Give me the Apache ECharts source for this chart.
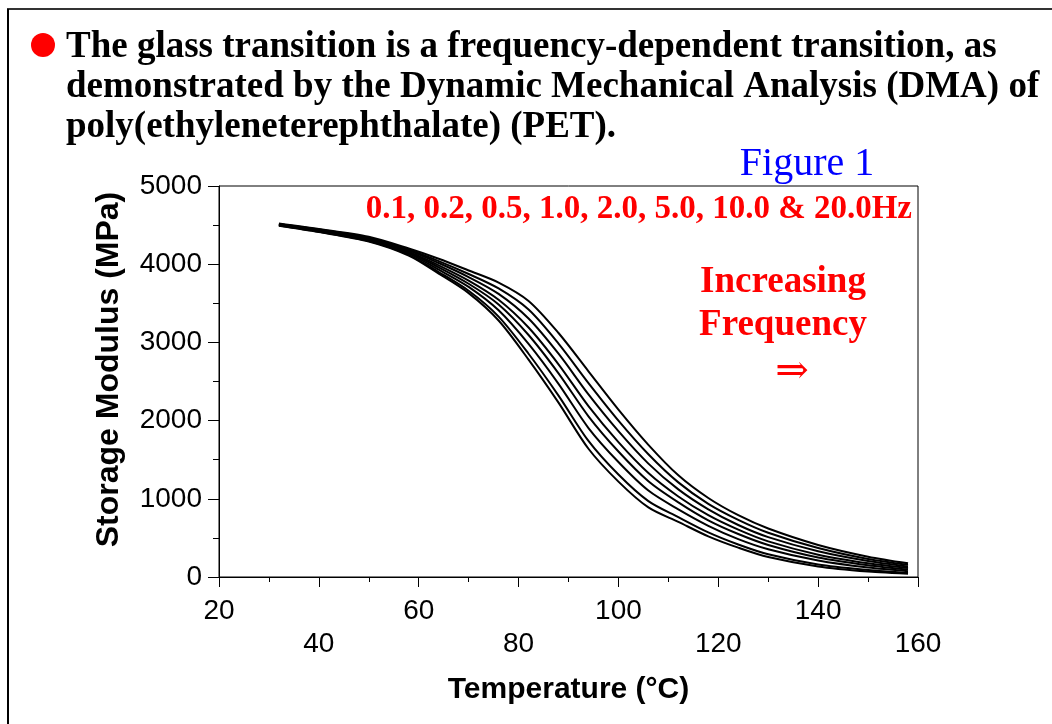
<!DOCTYPE html>
<html>
<head>
<meta charset="utf-8">
<title>DMA of PET</title>
<script src="https://cdn.jsdelivr.net/npm/echarts@6/dist/echarts.min.js"></script>
<style>
  html, body { margin: 0; padding: 0; background: #fff; }
  #main { width: 1052px; height: 724px; }
</style>
</head>
<body>
<div id="main"></div>
<script>
// temperature (°C) shared by all curves
var temps = [32, 40, 50, 58, 64, 70, 76, 82, 88, 94, 100, 106, 112, 118, 124, 130, 140, 150, 158];

// storage modulus (MPa), one array per frequency
var hz01 = [4490, 4410, 4290, 4110, 3880, 3630, 3280, 2780, 2230, 1640, 1220, 890, 705, 520, 375, 255, 135, 70, 40];
var hz02 = [4495, 4415, 4295, 4120, 3900, 3660, 3330, 2855, 2320, 1740, 1310, 970, 765, 570, 415, 290, 160, 90, 52];
var hz05 = [4500, 4420, 4305, 4135, 3930, 3710, 3410, 2980, 2470, 1905, 1470, 1105, 865, 655, 485, 355, 210, 120, 75];
var hz1  = [4505, 4425, 4315, 4150, 3960, 3750, 3485, 3095, 2605, 2055, 1605, 1225, 955, 725, 550, 410, 250, 150, 95];
var hz2  = [4505, 4430, 4325, 4160, 3985, 3790, 3545, 3190, 2720, 2185, 1725, 1330, 1030, 790, 605, 455, 285, 175, 115];
var hz5  = [4510, 4440, 4330, 4175, 4015, 3835, 3620, 3305, 2855, 2335, 1865, 1450, 1120, 865, 665, 510, 330, 205, 135];
var hz10 = [4515, 4445, 4340, 4185, 4040, 3875, 3690, 3420, 2985, 2480, 2000, 1570, 1210, 935, 730, 565, 370, 230, 155];
var hz20 = [4520, 4450, 4350, 4200, 4070, 3920, 3765, 3530, 3120, 2630, 2140, 1690, 1300, 1010, 790, 620, 410, 260, 175];

var freqNames = ['0.1Hz', '0.2Hz', '0.5Hz', '1.0Hz', '2.0Hz', '5.0Hz', '10.0Hz', '20.0Hz'];
var curves = [hz01, hz02, hz05, hz1, hz2, hz5, hz10, hz20];

var chartDom = document.getElementById('main');
var myChart = echarts.init(chartDom);
var option;

var series = curves.map(function (vals, k) {
  return {
    name: freqNames[k],
    type: 'line',
    data: temps.map(function (t, i) { return [t, vals[i]]; }),
    smooth: 0.3,
    symbol: 'none',
    lineStyle: { color: '#000', width: 2 },
    silent: true
  };
});

var serif = '"Liberation Serif", "Times New Roman", serif';
var sans = '"Liberation Sans", Arial, sans-serif';

option = {
  animation: false,
  backgroundColor: '#fff',
  grid: {
    left: 219, top: 186, width: 699, height: 391,
    show: true, borderColor: '#000', borderWidth: 1, backgroundColor: 'transparent'
  },
  xAxis: {
    type: 'value',
    min: 20, max: 160, interval: 20,
    name: 'Temperature (°C)',
    nameLocation: 'middle',
    nameGap: 98,
    nameTextStyle: { color: '#000', fontFamily: sans, fontWeight: 'bold', fontSize: 30 },
    axisLine: { show: true, lineStyle: { color: '#000', width: 1 } },
    axisTick: { show: true, inside: false, length: 10, lineStyle: { color: '#000' } },
    minorTick: { show: true, splitNumber: 2, length: 5, lineStyle: { color: '#000' } },
    splitLine: { show: false },
    axisLabel: {
      color: '#000', fontFamily: sans, fontSize: 28, lineHeight: 33, margin: 18,
      showMinLabel: true, showMaxLabel: true,
      formatter: function (v, i) { return i % 2 ? '\n' + v : '' + v; }
    }
  },
  yAxis: {
    type: 'value',
    min: 0, max: 5000, interval: 1000,
    name: 'Storage Modulus (MPa)',
    nameLocation: 'middle',
    nameRotate: 90,
    nameGap: 94,
    nameTextStyle: { color: '#000', fontFamily: sans, fontWeight: 'bold', fontSize: 32, padding: [0, 0, 0, 24] },
    axisLine: { show: true, lineStyle: { color: '#000', width: 1 } },
    axisTick: { show: true, inside: false, length: 11, lineStyle: { color: '#000' } },
    minorTick: { show: true, splitNumber: 2, length: 6, lineStyle: { color: '#000' } },
    splitLine: { show: false },
    axisLabel: {
      color: '#000', fontFamily: sans, fontSize: 28, margin: 17,
      formatter: function (v) { return '' + v; }
    }
  },
  graphic: [
    // slide frame
    { type: 'line', shape: { x1: 7, y1: 9, x2: 1052, y2: 9 }, style: { stroke: '#333', lineWidth: 2 } },
    { type: 'line', shape: { x1: 8, y1: 9, x2: 8, y2: 724 }, style: { stroke: '#000', lineWidth: 2 } },
    // bullet + heading
    { type: 'circle', shape: { cx: 43, cy: 45, r: 12 }, style: { fill: '#f00' } },
    { type: 'text', left: 66, top: 27, style: {
        text: 'The glass transition is a frequency-dependent transition, as\ndemonstrated by the Dynamic Mechanical Analysis (DMA) of\npoly(ethyleneterephthalate) (PET).',
        font: 'bold 37px ' + serif, fill: '#000', lineHeight: 40 } },
    { type: 'text', x: 807, y: 164, style: {
        text: 'Figure 1', font: '40px ' + serif, fill: '#00f', align: 'center', verticalAlign: 'middle' } },
    { type: 'text', x: 912, y: 209, style: {
        text: '0.1, 0.2, 0.5, 1.0, 2.0, 5.0, 10.0 & 20.0Hz', font: 'bold 33px ' + serif, fill: '#f00',
        align: 'right', verticalAlign: 'middle' } },
    { type: 'text', x: 783, y: 282, style: {
        text: 'Increasing', font: 'bold 37px ' + serif, fill: '#f00', align: 'center', verticalAlign: 'middle' } },
    { type: 'text', x: 783, y: 325, style: {
        text: 'Frequency', font: 'bold 37px ' + serif, fill: '#f00', align: 'center', verticalAlign: 'middle' } },
    { type: 'text', x: 792, y: 373, style: {
        text: '⇒', font: '40px "DejaVu Serif", ' + serif, fill: '#f00', align: 'center', verticalAlign: 'middle' } }
  ],
  series: series
};

option && myChart.setOption(option);
</script>
</body>
</html>
